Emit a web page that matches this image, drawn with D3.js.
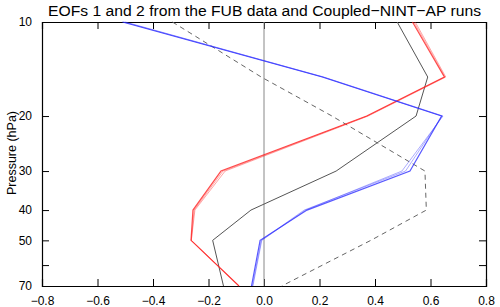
<!DOCTYPE html>
<html>
<head>
<meta charset="utf-8">
<script src="https://cdn.jsdelivr.net/npm/d3@7"></script>
<style>
  body { margin: 0; background: #fff; }
  text { font-family: "Liberation Sans", Arial, sans-serif; }
</style>
</head>
<body>
<div id="chart"></div>
<script>
// Data: pressure levels and EOF values
var levels = [10, 15, 20, 30, 40, 50, 70];
var xTicks = [-0.8, -0.6, -0.4, -0.2, 0.0, 0.2, 0.4, 0.6, 0.8];
var yTicks = [10, 20, 30, 40, 50, 60, 70];
var yLabels = ["10", "20", "30", "40", "50", "", "70"];

// EOF1 from model runs (red)
var redMain = [0.535, 0.65, 0.37, -0.155, -0.256, -0.263, -0.09];
var redRun2 = [0.545, 0.655, 0.375, -0.14, -0.249, -0.262, -0.09];
var redRun3 = [0.54, 0.652, 0.372, -0.148, -0.252, -0.262, -0.09];
// EOF2 from model runs (blue)
var blueMain = [-0.51, 0.21, 0.64, 0.526, 0.155, -0.014, -0.045];
var blueRun2 = [-0.505, 0.215, 0.645, 0.497, 0.15, -0.008, -0.04];
var blueRun3 = [-0.5, 0.212, 0.642, 0.51, 0.145, -0.01, -0.042];
// FUB data EOFs (black)
var fubEof1 = [0.48, 0.59, 0.548, 0.26, -0.047, -0.185, -0.146];
var fubEof2 = [-0.33, -0.01, 0.245, 0.58, 0.585, 0.385, 0.064];

var svgWidth = 500;
var svgHeight = 307;
var margin = { top: 22, right: 14, bottom: 21, left: 42 };
var width = svgWidth - margin.left - margin.right;
var height = svgHeight - margin.top - margin.bottom;

var svg = d3.select("#chart")
  .append("svg")
  .attr("width", svgWidth)
  .attr("height", svgHeight);

var chartGroup = svg.append("g")
  .attr("transform", `translate(${margin.left}, ${margin.top})`);

var xScale = d3.scaleLinear().domain([-0.8, 0.8]).range([0, width]);
var yScale = d3.scaleLog().domain([10, 70]).range([0, height]);

var fmt = function(d) { return d3.format(".1f")(d).replace("-", "\u2212"); };

// Axes with inward ticks
var bottomAxis = d3.axisBottom(xScale).tickValues(xTicks).tickSize(-7).tickPadding(10).tickFormat(fmt);
var topAxis = d3.axisTop(xScale).tickValues(xTicks).tickSize(-7).tickFormat("");
var leftAxis = d3.axisLeft(yScale).tickValues(yTicks).tickSize(-7).tickPadding(10)
  .tickFormat(function(d, i) { return yLabels[i]; });
var rightAxis = d3.axisRight(yScale).tickValues(yTicks).tickSize(-7).tickFormat("");

function styleAxis(g) {
  g.select(".domain").attr("stroke", "#000").attr("stroke-width", 1.2);
  g.selectAll(".tick line").attr("stroke", "#000").attr("stroke-width", 1);
  g.selectAll(".tick text").attr("font-size", "12px").attr("fill", "#000")
    .style("font-family", "Liberation Sans, Arial, sans-serif");
}

chartGroup.append("g").attr("transform", `translate(0, ${height})`).call(bottomAxis).call(styleAxis);
chartGroup.append("g").call(topAxis).call(styleAxis);
chartGroup.append("g").call(leftAxis).call(styleAxis);
chartGroup.append("g").attr("transform", `translate(${width}, 0)`).call(rightAxis).call(styleAxis);

// Zero line
chartGroup.append("line")
  .attr("x1", xScale(0)).attr("x2", xScale(0))
  .attr("y1", 0).attr("y2", height)
  .attr("stroke", "#888").attr("stroke-width", 1);

var line = d3.line()
  .x(d => xScale(d[0]))
  .y(d => yScale(d[1]));

function drawProfile(values, color, widthPx, opacity, dash) {
  chartGroup.append("path")
    .datum(values.map((v, i) => [v, levels[i]]))
    .attr("d", line)
    .attr("fill", "none")
    .attr("stroke", color)
    .attr("stroke-width", widthPx)
    .attr("stroke-opacity", opacity)
    .attr("stroke-dasharray", dash || null);
}

drawProfile(fubEof1, "#555", 1, 1);
drawProfile(fubEof2, "#666", 1, 1, "5,4");

drawProfile(redRun2, "#ff2020", 1, 0.4);
drawProfile(redRun3, "#ff2020", 1, 0.4);
drawProfile(redMain, "#ff2020", 1.2, 0.8);

drawProfile(blueRun2, "#3030ff", 1, 0.4);
drawProfile(blueRun3, "#3030ff", 1, 0.4);
drawProfile(blueMain, "#3030ff", 1.2, 0.8);

// Title
svg.append("text")
  .attr("x", 48)
  .attr("y", 16)
  .attr("font-size", "15.5px")
  .attr("textLength", 433)
  .attr("lengthAdjust", "spacingAndGlyphs")
  .text("EOFs 1 and 2 from the FUB data and Coupled\u2212NINT\u2212AP runs");

// Y axis label
svg.append("text")
  .attr("transform", "translate(16, 153) rotate(-90)")
  .attr("text-anchor", "middle")
  .attr("font-size", "12.5px")
  .text("Pressure (hPa)");
</script>
</body>
</html>
